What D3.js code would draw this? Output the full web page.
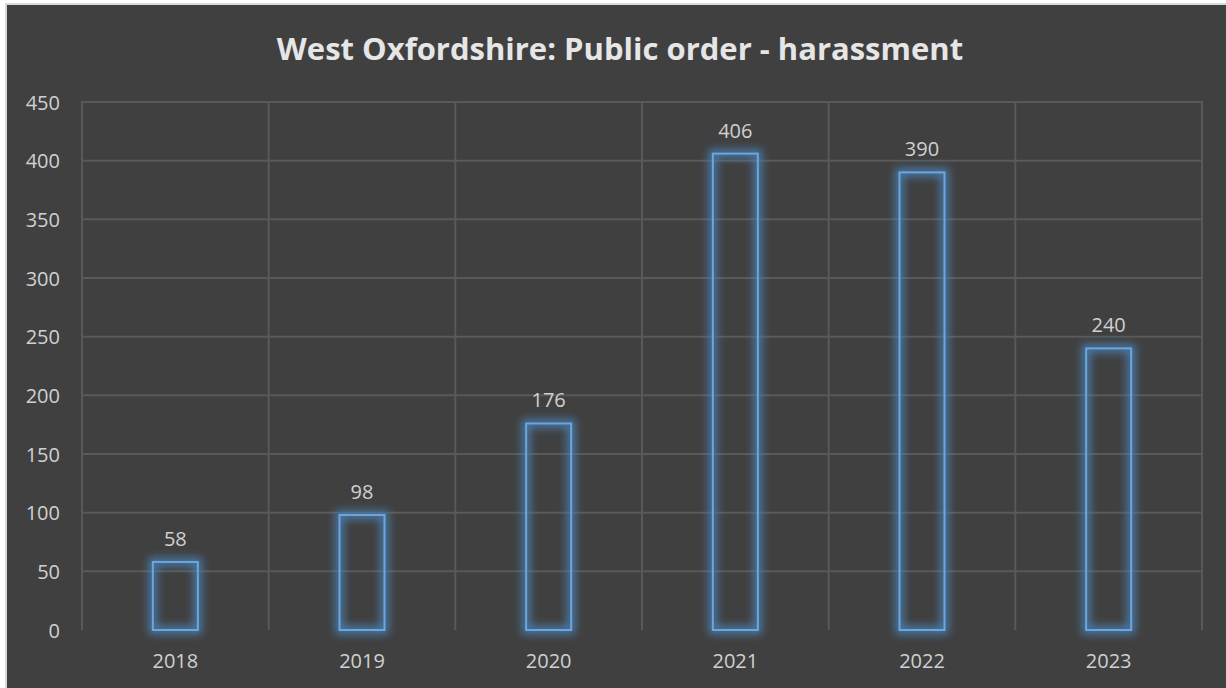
<!DOCTYPE html>
<html><head><meta charset="utf-8">
<script src="https://cdn.jsdelivr.net/npm/d3@7"></script>
<style>
html,body{margin:0;padding:0;background:#fff;}
svg{display:block;}
</style></head>
<body>
<script>
const title = "West Oxfordshire: Public order - harassment";
const categories = ["2018","2019","2020","2021","2022","2023"];
const values = [58, 98, 176, 406, 390, 240];
const yTicks = [0,50,100,150,200,250,300,350,400,450];

const W = 1226, H = 688;
const FONT = "'Open Sans', 'Noto Sans', sans-serif";
const svg = d3.select("body").append("svg").attr("width", W).attr("height", H);

// outer frame
svg.append("rect").attr("x",0).attr("y",0).attr("width",W).attr("height",H).attr("fill","#ffffff");
svg.append("rect").attr("x",5).attr("y",3).attr("width",W).attr("height",H).attr("fill","#d9d9d9");
svg.append("rect").attr("x",7).attr("y",5).attr("width",W).attr("height",H).attr("fill","#404040");

const defs = svg.append("defs");
const f = defs.append("filter").attr("id","glow").attr("x","-50%").attr("y","-50%").attr("width","200%").attr("height","200%");
f.append("feGaussianBlur").attr("stdDeviation",4);

const plot = {left:82, right:1202, top:102, bottom:630};
const x = d3.scaleBand().domain(categories).range([plot.left, plot.right]).padding(0);
const y = d3.scaleLinear().domain([0,450]).range([plot.bottom, plot.top]);

// title
svg.append("text").attr("x", 620).attr("y", 60)
  .attr("text-anchor","middle").attr("font-family",FONT)
  .attr("font-weight","bold").attr("font-size",31).attr("fill","#e6e6e6").text(title);

const grid = svg.append("g");
grid.selectAll("line.h").data(yTicks.filter(d=>d>0)).join("line")
  .attr("x1",plot.left).attr("x2",plot.right)
  .attr("y1",d=>y(d)).attr("y2",d=>y(d))
  .attr("stroke","#595959").attr("stroke-width",2);
const bounds = categories.map(c=>x(c)).concat([plot.right]);
grid.selectAll("line.v").data(bounds).join("line")
  .attr("x1",d=>d).attr("x2",d=>d)
  .attr("y1",plot.top-1).attr("y2",plot.bottom)
  .attr("stroke","#595959").attr("stroke-width",2);

// y axis labels
const yAxis = d3.axisLeft(y).tickValues(yTicks).tickSize(0).tickPadding(0);
const ya = svg.append("g").attr("transform",`translate(${60},0)`).call(yAxis);
ya.select(".domain").remove();
ya.selectAll("text").attr("font-family",FONT).attr("font-size",20).attr("fill","#d0d0d0").attr("dy","0.35em");

// x axis labels
const xAxis = d3.axisBottom(x).tickSize(0).tickPadding(0);
const xa = svg.append("g").attr("transform",`translate(0,${661})`).call(xAxis);
xa.select(".domain").remove();
xa.selectAll("text").attr("font-family",FONT).attr("font-size",20).attr("fill","#d0d0d0").attr("dy","0.35em");

// bars
const bw = 45;
const bars = svg.append("g");
const data = categories.map((c,i)=>({c, v:values[i]}));
bars.selectAll("rect.glow").data(data).join("rect")
  .attr("x",d=>x(d.c)+x.bandwidth()/2-bw/2).attr("y",d=>y(d.v))
  .attr("width",bw).attr("height",d=>plot.bottom-y(d.v))
  .attr("fill","none").attr("stroke","#4a86c0").attr("stroke-width",8).attr("stroke-opacity",0.85)
  .attr("filter","url(#glow)");
bars.selectAll("rect.bar").data(data).join("rect")
  .attr("x",d=>x(d.c)+x.bandwidth()/2-bw/2).attr("y",d=>y(d.v))
  .attr("width",bw).attr("height",d=>plot.bottom-y(d.v))
  .attr("fill","none").attr("stroke","#6aa6e0").attr("stroke-width",2);

// value labels
bars.selectAll("text").data(data).join("text")
  .attr("x",d=>x(d.c)+x.bandwidth()/2).attr("y",d=>y(d.v)-16)
  .attr("text-anchor","middle").attr("font-family",FONT)
  .attr("font-size",20).attr("fill","#d0d0d0").text(d=>d.v);
</script>
</body></html>
